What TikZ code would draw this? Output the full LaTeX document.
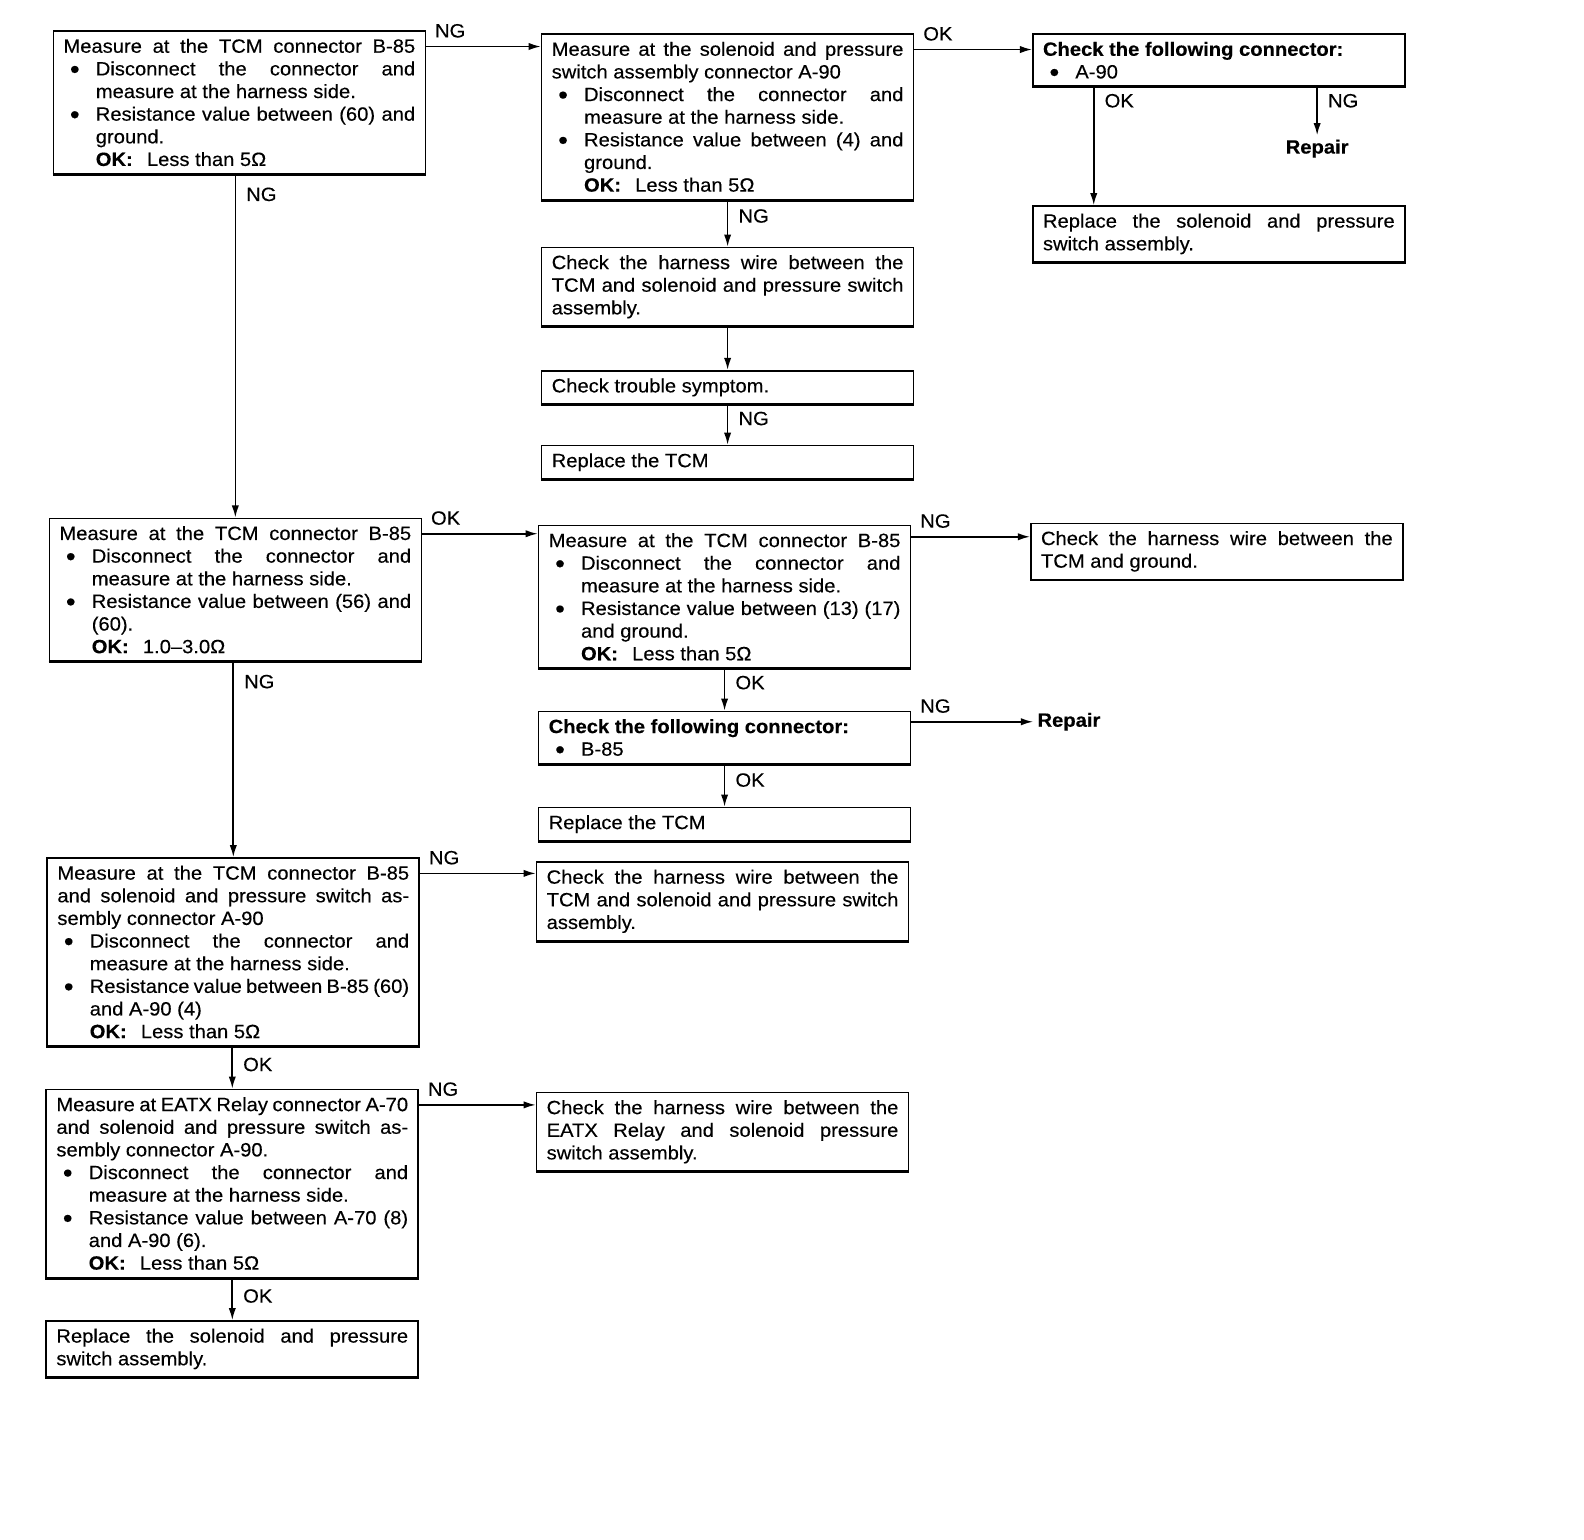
\documentclass[tikz,border=0pt]{standalone}
\usepackage{fontspec}
\setmainfont{Liberation Sans}[FakeStretch=1.05, FakeBold=0.3]
\usetikzlibrary{arrows.meta}

\setlength{\parindent}{0pt}
\tolerance=9999
\hbadness=10000
\hyphenpenalty=10000
\exhyphenpenalty=10000

% bullet item and OK line with hanging indent
\newcommand{\itm}{\par\hangindent=16pt\hangafter=0\noindent\llap{\makebox[13pt][l]{\raisebox{0.6pt}{\fontsize{8.2}{8}\selectfont ●}}}}
\newcommand{\okl}[1]{\par\hangindent=16pt\hangafter=0\noindent\textbf{OK:}\hspace{7pt}#1\par}
\newcommand{\full}{{\parfillskip=0pt\par}}

\tikzset{
  box/.style={draw, line width=0.8pt, anchor=north west, text width=174pt,
    inner xsep=5pt, inner ysep=3.8pt, align=justify,
    font=\fontsize{9.5}{11.2}\selectfont},
  arr/.style={line width=0.8pt, -{Latex[length=6pt,width=3.6pt]}},
  lbl/.style={font=\fontsize{9.5}{11.2}\selectfont, inner sep=2pt},
}

\begin{document}
\begin{tikzpicture}[x=0.5pt, y=-0.5pt]
    \useasboundingbox (0,0) rectangle (1567,1523);

    % First row
    \node[box] (a1) at (52,30) {Measure at the TCM connector B-85\full
      \itm Disconnect the connector and\linebreak measure at the harness side.
      \itm Resistance value between (60) and\linebreak ground.
      \okl{Less than 5Ω}};
    \node[box] (a2) at (535,33) {Measure at the solenoid and pressure\linebreak switch assembly connector A-90
      \itm Disconnect the connector and\linebreak measure at the harness side.
      \itm Resistance value between (4) and\linebreak ground.
      \okl{Less than 5Ω}};
    \node[box] (a3) at (1021,33) {\textbf{Check the following connector:}
      \itm A-90\par};
    \node[box] (a4) at (1021,203) {Replace the solenoid and pressure\linebreak switch assembly.};
    \node[lbl, font=\fontsize{9.5}{11.2}\selectfont\bfseries] (rep1) at (1303,147) {Repair};

    % Harness check below A-90
    \node[box] (b1) at (535,244) {Check the harness wire between the\linebreak TCM and solenoid and pressure switch\linebreak assembly.};
    \node[box] (b2) at (535,366) {Check trouble symptom.};
    \node[box] (b3) at (535,440) {Replace the TCM};

    % Second row
    \node[box] (c1) at (48,512) {Measure at the TCM connector B-85\full
      \itm Disconnect the connector and\linebreak measure at the harness side.
      \itm Resistance value between (56) and\linebreak (60).
      \okl{1.0–3.0Ω}};
    \node[box] (c2) at (532,519) {Measure at the TCM connector B-85\full
      \itm Disconnect the connector and\linebreak measure at the harness side.
      \itm Resistance value between (13) (17)\linebreak and ground.
      \okl{Less than 5Ω}};
    \node[box] (c3) at (1019,517) {Check the harness wire between the\linebreak TCM and ground.};
    \node[box] (d1) at (532,703) {\textbf{Check the following connector:}
      \itm B-85\par};
    \node[lbl, anchor=west, font=\fontsize{9.5}{11.2}\selectfont\bfseries] (rep2) at (1022,714) {Repair};
    \node[box] (d2) at (532,798) {Replace the TCM};

    % Third and fourth rows
    \node[box] (e1) at (46,848) {Measure at the TCM connector B-85\linebreak and solenoid and pressure switch as-\linebreak sembly connector A-90
      \itm Disconnect the connector and\linebreak measure at the harness side.
      \itm Resistance value between B-85 (60)\linebreak and A-90 (4)
      \okl{Less than 5Ω}};
    \node[box] (e2) at (530,852) {Check the harness wire between the\linebreak TCM and solenoid and pressure switch\linebreak assembly.};
    \node[box] (f1) at (45,1077) {Measure at EATX Relay connector A-70\linebreak and solenoid and pressure switch as-\linebreak sembly connector A-90.
      \itm Disconnect the connector and\linebreak measure at the harness side.
      \itm Resistance value between A-70 (8)\linebreak and A-90 (6).
      \okl{Less than 5Ω}};
    \node[box] (f2) at (530,1080) {Check the harness wire between the\linebreak EATX Relay and solenoid pressure\linebreak switch assembly.};
    \node[box] (g1) at (45,1306) {Replace the solenoid and pressure\linebreak switch assembly.};

    % heavier bottom edges
    \foreach \n in {a1,a2,a3,a4,b1,b2,b3,c1,c2,c3,d1,d2,e1,e2,f1,f2,g1}
      \draw[line width=1.3pt] (\n.south west) -- (\n.south east);

    % Horizontal connectors
    \draw[arr] ([yshift=-8pt]a1.north east) -- ([yshift=-8pt]a1.north east -| a2.west)
      node[lbl, above right, pos=0, xshift=2pt, yshift=2pt] {NG};
    \draw[arr] ([yshift=-8pt]a2.north east) -- ([yshift=-8pt]a2.north east -| a3.west)
      node[lbl, above right, pos=0, xshift=2pt, yshift=2pt] {OK};
    \draw[arr] ([yshift=-8pt]c1.north east) -- ([yshift=-8pt]c1.north east -| c2.west)
      node[lbl, above right, pos=0, xshift=2pt, yshift=2pt] {OK};
    \draw[arr] ([yshift=-6pt]c2.north east) -- ([yshift=-6pt]c2.north east -| c3.west)
      node[lbl, above right, pos=0, xshift=2pt, yshift=2pt] {NG};
    \draw[arr] (d1.east |- rep2.west) -- (rep2.west)
      node[lbl, above right, pos=0, xshift=2pt, yshift=2pt] {NG};
    \draw[arr] ([yshift=-8pt]e1.north east) -- ([yshift=-8pt]e1.north east -| e2.west)
      node[lbl, above right, pos=0, xshift=2pt, yshift=2pt] {NG};
    \draw[arr] ([yshift=-8pt]f1.north east) -- ([yshift=-8pt]f1.north east -| f2.west)
      node[lbl, above right, pos=0, xshift=2pt, yshift=2pt] {NG};

    % Vertical connectors
    \draw[arr] (a1.south -| c1.north) -- (c1.north)
      node[lbl, below right, pos=0, xshift=3pt, yshift=-4pt] {NG};
    \draw[arr] (c1.south -| e1.north) -- (e1.north)
      node[lbl, below right, pos=0, xshift=3pt, yshift=-4pt] {NG};
    \draw[arr] (e1.south -| f1.north) -- (f1.north)
      node[lbl, below right, pos=0, xshift=3pt, yshift=-3pt] {OK};
    \draw[arr] (f1.south -| g1.north) -- (g1.north)
      node[lbl, below right, pos=0, xshift=3pt, yshift=-3pt] {OK};
    \draw[arr] (a2.south -| b1.north) -- (b1.north)
      node[lbl, below right, pos=0, xshift=3pt, yshift=-2pt] {NG};
    \draw[arr] (b1.south) -- (b2.north);
    \draw[arr] (b2.south) -- (b3.north)
      node[lbl, below right, pos=0, xshift=3pt, yshift=-1pt] {NG};
    \draw[arr] (c2.south -| d1.north) -- (d1.north)
      node[lbl, below right, pos=0, xshift=3pt, yshift=-1pt] {OK};
    \draw[arr] (d1.south) -- (d2.north)
      node[lbl, below right, pos=0, xshift=3pt, yshift=-2pt] {OK};
    \draw[arr] ([xshift=30.5pt]a3.south west) -- ([xshift=30.5pt]a4.north west)
      node[lbl, below right, pos=0, xshift=3pt, yshift=-1pt] {OK};
    \draw[arr] (a3.south -| rep1.north) -- (rep1.north)
      node[lbl, below right, pos=0, xshift=3pt, yshift=-1pt] {NG};
\end{tikzpicture}
\end{document}
